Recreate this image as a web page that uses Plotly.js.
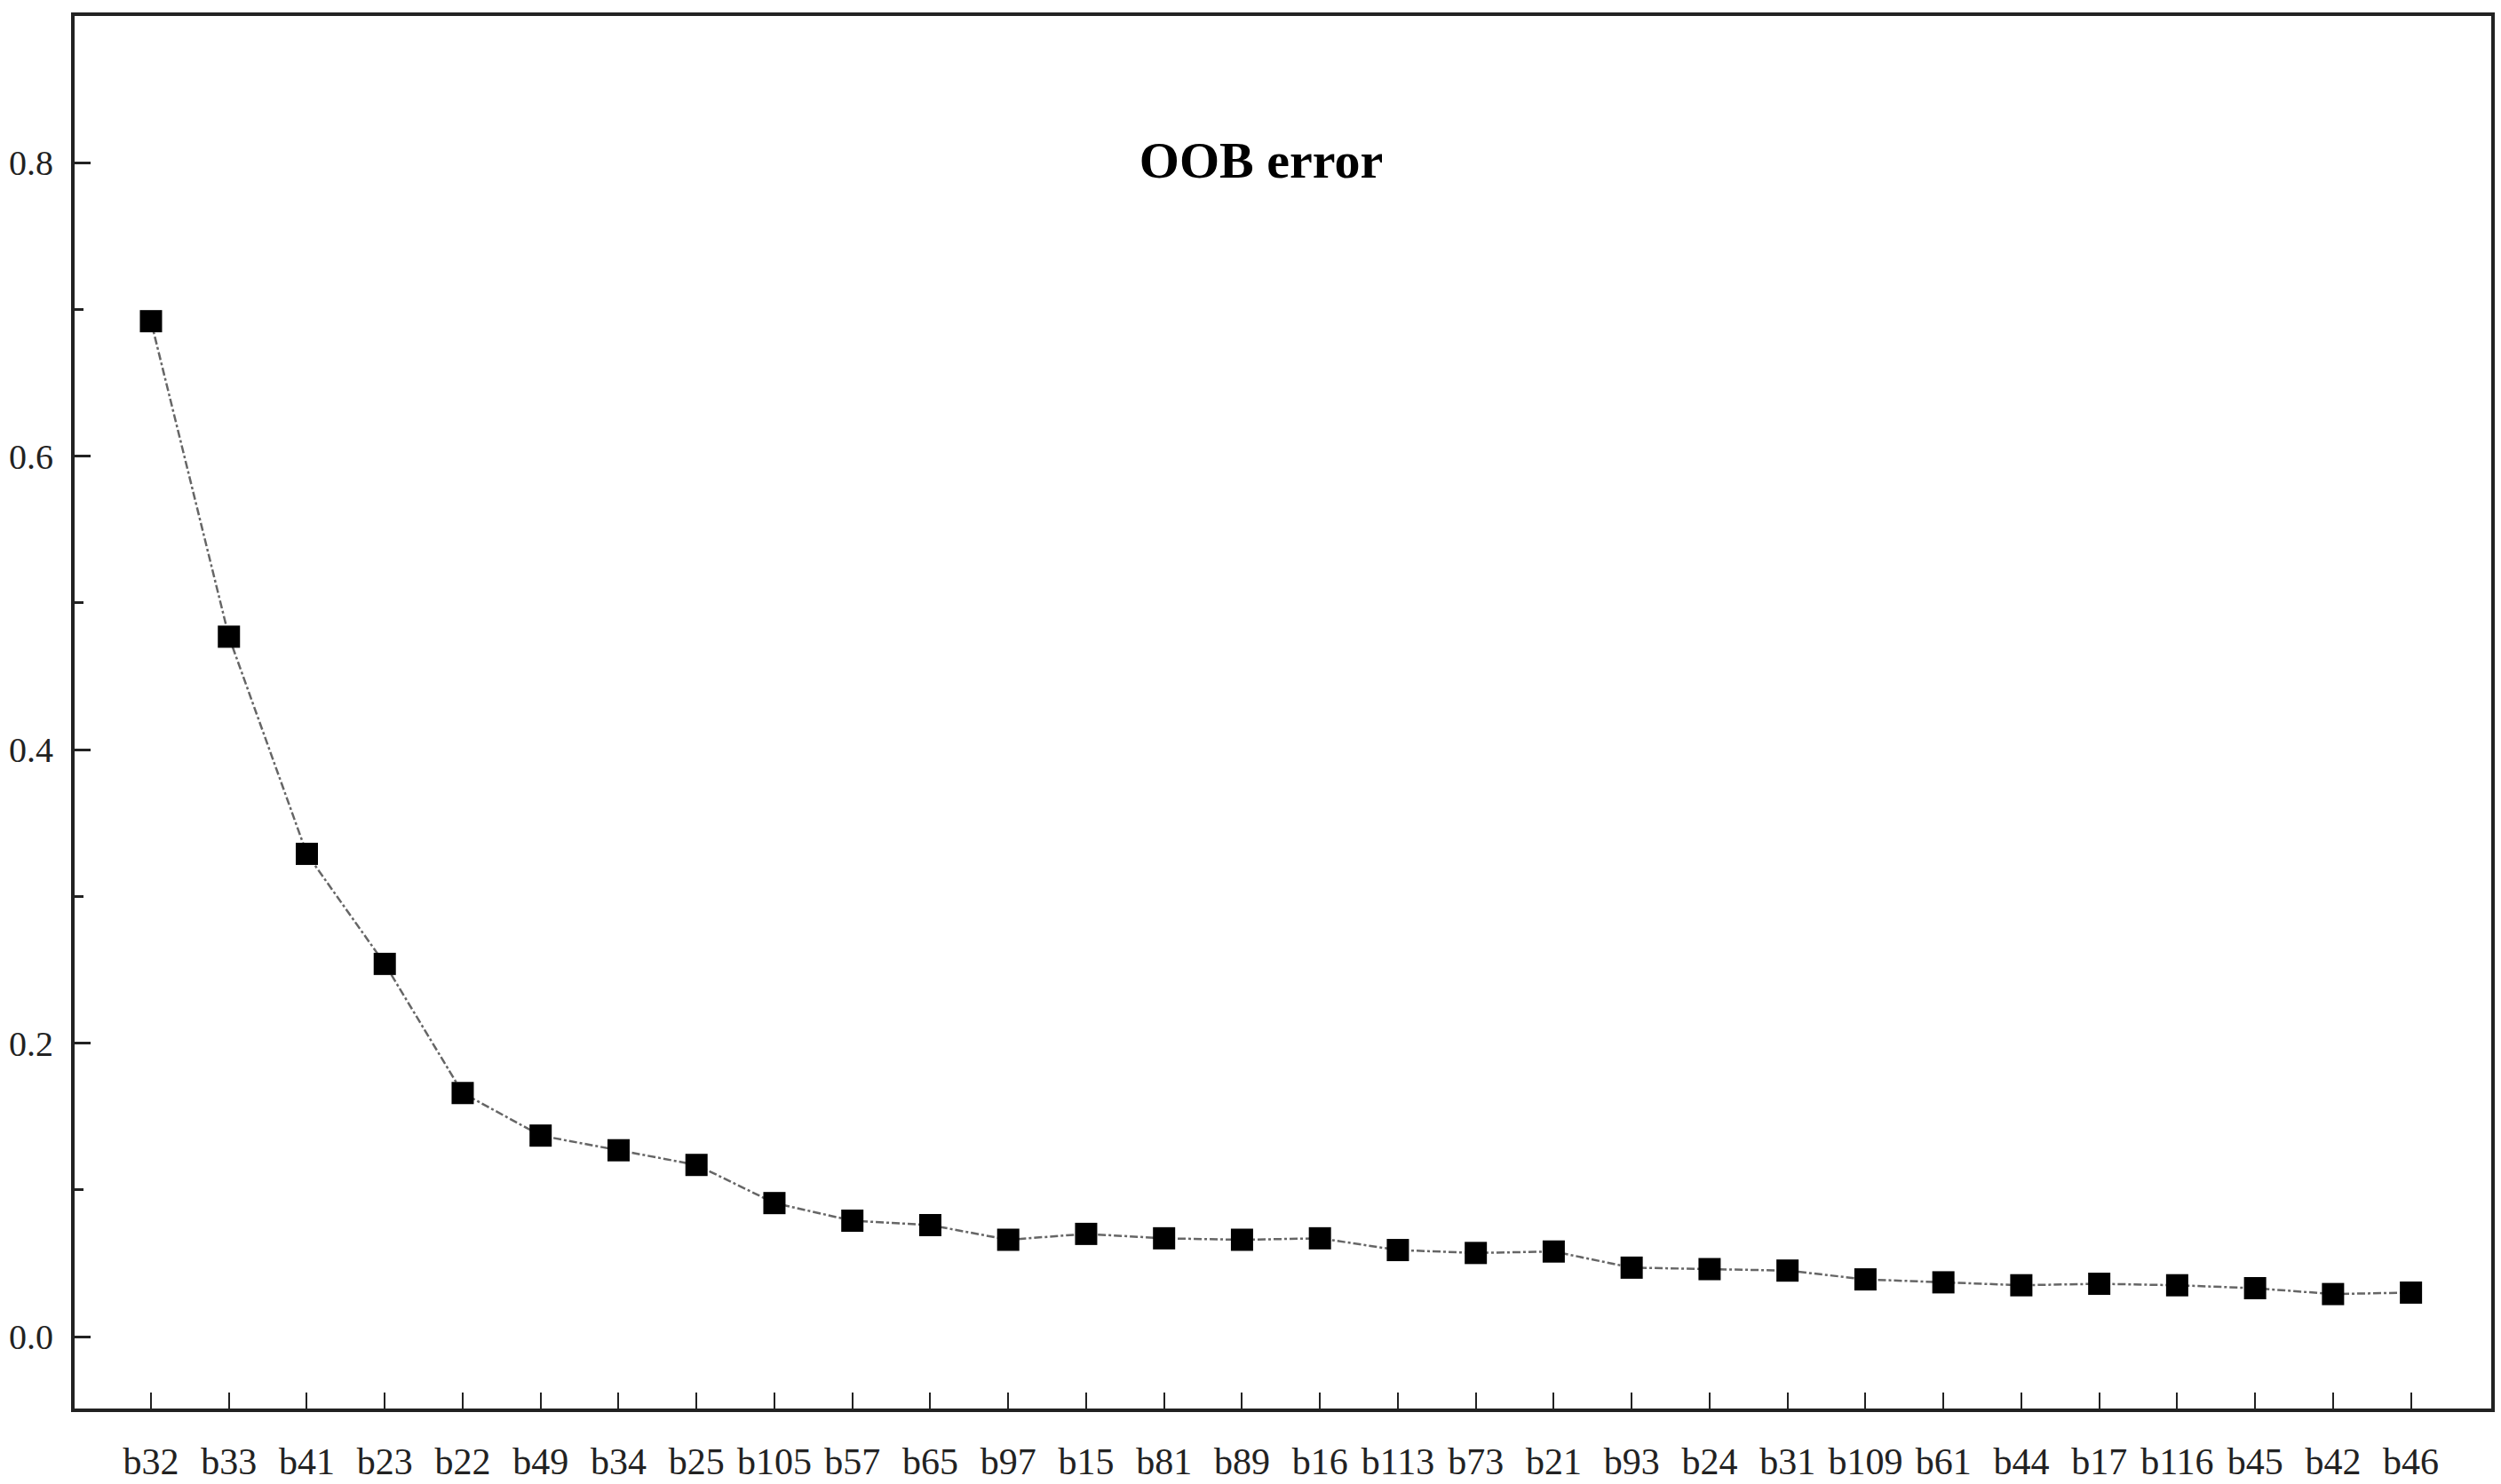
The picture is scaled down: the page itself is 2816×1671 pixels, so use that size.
<!DOCTYPE html>
<html>
<head>
<meta charset="utf-8">
<script src="https://cdn.plot.ly/plotly-3.0.1.min.js"></script>
<style>
  html, body { margin: 0; padding: 0; background: #fff; }
  #myPlot { width: 2816px; height: 1671px; }
</style>
</head>
<body>
<div id="myPlot"></div>
<script>
// OOB error per feature
const features = ["b32", "b33", "b41", "b23", "b22", "b49", "b34", "b25", "b105", "b57",
                  "b65", "b97", "b15", "b81", "b89", "b16", "b113", "b73", "b21", "b93",
                  "b24", "b31", "b109", "b61", "b44", "b17", "b116", "b45", "b42", "b46"];
const oobError = [0.692, 0.477, 0.329, 0.254, 0.166, 0.137, 0.127, 0.117, 0.091, 0.079,
                  0.076, 0.066, 0.070, 0.067, 0.066, 0.067, 0.059, 0.057, 0.058, 0.047,
                  0.046, 0.045, 0.039, 0.037, 0.035, 0.036, 0.035, 0.033, 0.029, 0.030];
const yTicks = [0.0, 0.2, 0.4, 0.6, 0.8];

const fontFamily = "Liberation Serif, Times New Roman, serif";

const data = [{
    x: features,
    y: oobError,
    type: "scatter",
    mode: "lines+markers",
    line: { color: "#666", width: 2.5, dash: "dashdot" },
    marker: { symbol: "square", size: 25, color: "#000" },
    cliponaxis: false
}];

const layout = {
    width: 2816,
    height: 1671,
    margin: { l: 84, r: 11, t: 18, b: 85 },
    paper_bgcolor: "#fff",
    plot_bgcolor: "#fff",
    showlegend: false,
    font: { family: fontFamily, color: "#222", size: 42 },
    title: {
        text: "<b>OOB error</b>",
        font: { family: fontFamily, size: 58, color: "#000" },
        xref: "paper", yref: "paper",
        x: 0.491, y: 0.897,
        xanchor: "center", yanchor: "middle"
    },
    xaxis: {
        type: "category",
        range: [-0.98, 30.03],
        showgrid: false,
        zeroline: false,
        showline: true,
        linecolor: "#222",
        linewidth: 4,
        mirror: true,
        ticks: "inside",
        ticklen: 18,
        tickwidth: 2,
        tickcolor: "#222",
        ticklabelstandoff: 20,
        tickfont: { family: fontFamily, size: 42, color: "#222" }
    },
    yaxis: {
        range: [-0.049, 0.9],
        tickvals: yTicks,
        tickformat: ".1f",
        showgrid: false,
        zeroline: false,
        showline: true,
        linecolor: "#222",
        linewidth: 4,
        mirror: true,
        ticks: "inside",
        ticklen: 18,
        tickwidth: 3,
        tickcolor: "#222",
        ticklabelstandoff: 12,
        tickfont: { family: fontFamily, size: 40, color: "#222" },
        minor: { ticks: "inside", dtick: 0.1, tick0: 0, ticklen: 10, tickwidth: 3, tickcolor: "#222" }
    }
};

Plotly.newPlot("myPlot", data, layout, { displayModeBar: false, staticPlot: true });
</script>
</body>
</html>
